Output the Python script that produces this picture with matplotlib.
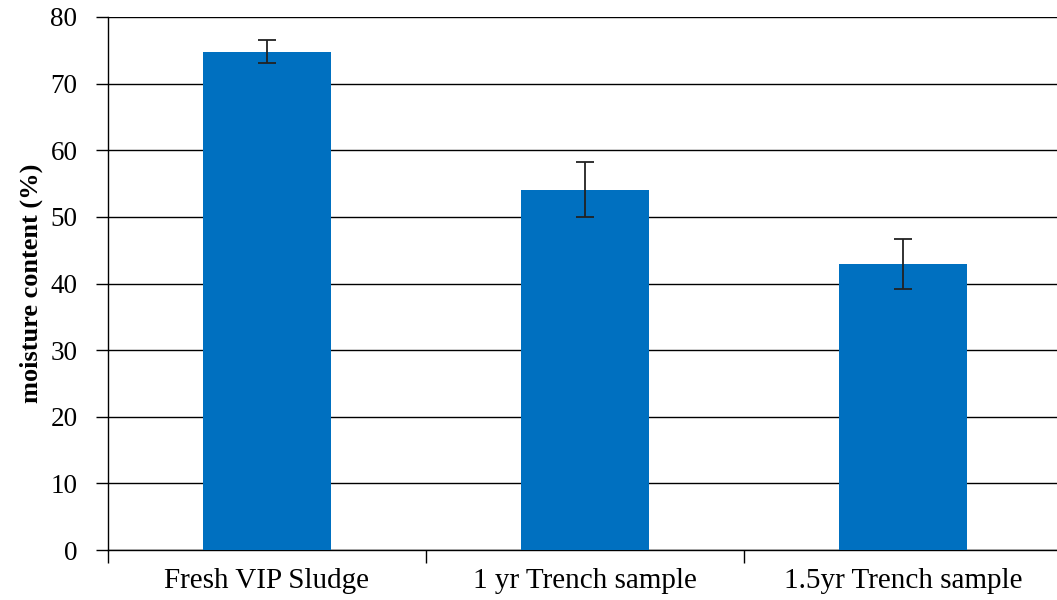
import matplotlib
matplotlib.use('Agg')
import matplotlib.pyplot as plt
import numpy as np

# --- data ---
categories = ['Fresh VIP Sludge', '1 yr Trench sample', '1.5yr Trench sample']
moisture = [74.8, 54.1, 42.9]
errors = [1.7, 4.15, 3.8]
yticks = [0, 10, 20, 30, 40, 50, 60, 70, 80]

plt.rcParams['font.family'] = ['Liberation Serif', 'DejaVu Serif']

fig = plt.figure(figsize=(10.57, 6.0), dpi=100)
ax = fig.add_axes([108 / 1057, 50 / 600, 954 / 1057, 533 / 600])

x = np.arange(len(categories))
ax.bar(x, moisture, width=0.4, color='#0070C0', zorder=3)
ax.errorbar(x, moisture, yerr=errors, fmt='none', ecolor='#222222',
            elinewidth=1.3, capsize=6.5, capthick=1.3, zorder=4)

ax.set_xlim(-0.5, 2.5)
ax.set_ylim(0, 80)
ax.set_yticks(yticks)
ax.set_yticklabels([str(v) for v in yticks], fontsize=19.5)
ax.yaxis.grid(True, color='black', linewidth=1.0, zorder=0)
ax.set_axisbelow(True)

# category labels centred, tick marks between categories
ax.set_xticks(x)
ax.set_xticklabels(categories, fontsize=21)
ax.tick_params(axis='x', length=0, pad=13)
ax.set_xticks([-0.5, 0.5, 1.5, 2.5], minor=True)
ax.tick_params(axis='x', which='minor', length=9, width=1, direction='out')
ax.tick_params(axis='y', length=9, width=1, direction='out', pad=13)

ax.set_ylabel('moisture content (%)', fontsize=19, fontweight='bold', labelpad=5)

for side in ['top', 'right']:
    ax.spines[side].set_visible(False)
for side in ['left', 'bottom']:
    ax.spines[side].set_color('black')
    ax.spines[side].set_linewidth(1.0)

plt.savefig('out.png', dpi=100, facecolor='white')
plt.close()
